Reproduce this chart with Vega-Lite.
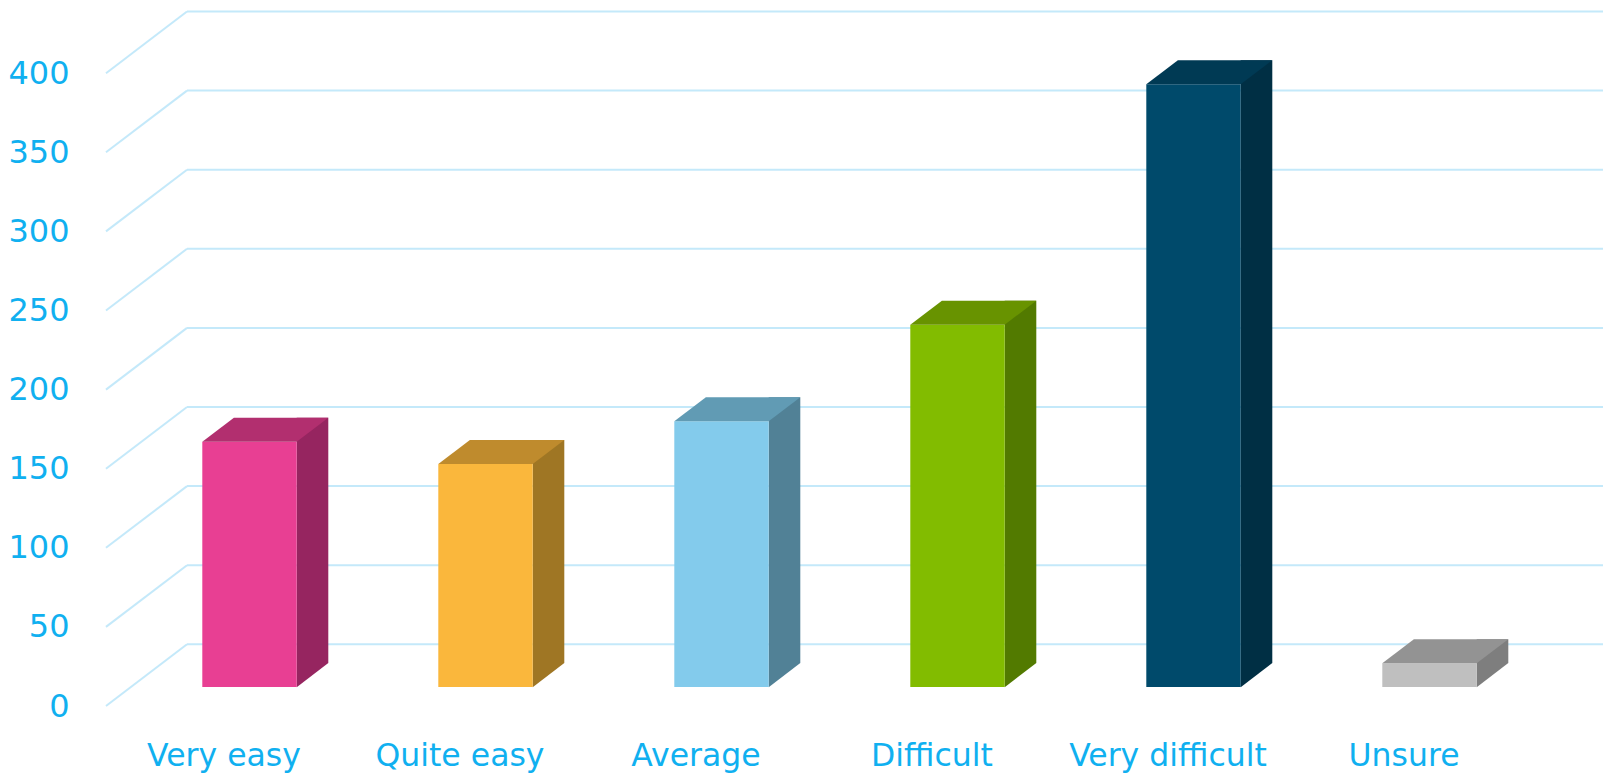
{
  "$schema": "https://vega.github.io/schema/vega-lite/v6.json",
  "autosize": {"type": "none"},
  "padding": {"left": 187, "top": 54.2, "right": 2, "bottom": 87},
  "width": 1416,
  "height": 632.8,
  "background": "white",
  "config": {
    "view": {"stroke": null},
    "axisX": {"domain": false, "ticks": false, "tickSize": 0, "grid": false, "labelLimit": 0,
              "labelAngle": 0, "labelOffset": -81, "labelPadding": 78, "labelBaseline": "alphabetic",
              "labelFont": "DejaVu Sans", "labelFontSize": 31.5, "labelColor": "#10b0f0"},
    "axisY": {"domain": false, "ticks": false, "tickSize": 0, "grid": false,
              "labelOffset": 19, "labelPadding": 118,
              "labelFont": "DejaVu Sans", "labelFontSize": 32, "labelColor": "#10b0f0"}
  },
  "datasets": {
    "bars": [
      {"cat": "Very easy", "value": 155},
      {"cat": "Quite easy", "value": 141},
      {"cat": "Average", "value": 168},
      {"cat": "Difficult", "value": 229},
      {"cat": "Very difficult", "value": 381},
      {"cat": "Unsure", "value": 15}
    ],
    "grid": [
      {"g": 0}, {"g": 50}, {"g": 100}, {"g": 150}, {"g": 200},
      {"g": 250}, {"g": 300}, {"g": 350}, {"g": 400}
    ]
  },
  "resolve": {"scale": {"color": "independent"}},
  "layer": [
    {
      "data": {"name": "grid"},
      "mark": {"type": "rule", "color": "#c4e9fa", "strokeWidth": 2, "yOffset": -42.7},
      "encoding": {
        "y": {"field": "g", "type": "quantitative", "scale": {"domain": [0, 400], "nice": false},
              "axis": {"title": null, "values": [0, 50, 100, 150, 200, 250, 300, 350, 400]}}
      }
    },
    {
      "data": {"name": "grid"},
      "mark": {"type": "rule", "color": "#c4e9fa", "strokeWidth": 2, "xOffset": -81, "yOffset": 19, "y2Offset": -42.7},
      "encoding": {
        "x": {"value": 0},
        "x2": {"value": 0},
        "y": {"field": "g", "type": "quantitative",
              "axis": {"title": null, "values": [0, 50, 100, 150, 200, 250, 300, 350, 400]}},
        "y2": {"field": "g"}
      }
    },
    {
      "data": {"name": "bars"},
      "mark": {"type": "bar", "width": 31.6, "xOffset": 7.5, "yOffset": -24, "y2Offset": -24},
      "encoding": {
        "x": {"field": "cat", "type": "nominal", "sort": null, "axis": {"title": null},
              "scale": {"paddingInner": 0, "paddingOuter": 0}},
        "y": {"field": "value", "type": "quantitative", "stack": null,
              "axis": {"title": null, "values": [0, 50, 100, 150, 200, 250, 300, 350, 400]}},
        "y2": {"datum": 0},
        "color": {"field": "cat", "type": "nominal", "legend": null, "sort": null,
          "scale": {"domain": ["Very easy", "Quite easy", "Average", "Difficult", "Very difficult", "Unsure"],
                    "range": ["#962560", "#9f7624", "#518196", "#527a00", "#002f44", "#7e7e7e"]}}
      }
    },
    {
      "data": {"name": "bars"},
      "mark": {"type": "point", "filled": true, "opacity": 1, "strokeWidth": 0, "size": 4, "xOffset": -8.3, "yOffset": -24,
               "shape": "M0,0L0,24.2L31.6,0Z"},
      "encoding": {
        "x": {"field": "cat", "type": "nominal", "sort": null, "axis": {"title": null}},
        "y": {"datum": 0, "type": "quantitative",
              "axis": {"title": null, "values": [0, 50, 100, 150, 200, 250, 300, 350, 400]}},
        "color": {"field": "cat", "type": "nominal", "legend": null, "sort": null,
          "scale": {"domain": ["Very easy", "Quite easy", "Average", "Difficult", "Very difficult", "Unsure"],
                    "range": ["#962560", "#9f7624", "#518196", "#527a00", "#002f44", "#7e7e7e"]}}
      }
    },
    {
      "data": {"name": "bars"},
      "mark": {"type": "bar", "width": 94.4, "xOffset": -55.5},
      "encoding": {
        "x": {"field": "cat", "type": "nominal", "sort": null, "axis": {"title": null}},
        "y": {"field": "value", "type": "quantitative", "stack": null,
              "axis": {"title": null, "values": [0, 50, 100, 150, 200, 250, 300, 350, 400]}},
        "y2": {"datum": 0},
        "color": {"field": "cat", "type": "nominal", "legend": null, "sort": null,
          "scale": {"domain": ["Very easy", "Quite easy", "Average", "Difficult", "Very difficult", "Unsure"],
                    "range": ["#e83f93", "#fab73c", "#83cbec", "#82bc00", "#004a6b", "#bfbfbf"]}}
      }
    },
    {
      "data": {"name": "bars"},
      "mark": {"type": "point", "filled": true, "opacity": 1, "strokeWidth": 0, "size": 4, "xOffset": -55.5,
               "shape": "M-47.2,0L47.2,0L78.8,-24L-15.6,-24Z"},
      "encoding": {
        "x": {"field": "cat", "type": "nominal", "sort": null, "axis": {"title": null}},
        "y": {"field": "value", "type": "quantitative",
              "axis": {"title": null, "values": [0, 50, 100, 150, 200, 250, 300, 350, 400]}},
        "color": {"field": "cat", "type": "nominal", "legend": null, "sort": null,
          "scale": {"domain": ["Very easy", "Quite easy", "Average", "Difficult", "Very difficult", "Unsure"],
                    "range": ["#b22f6f", "#bf8b2d", "#619bb4", "#689300", "#003a54", "#939393"]}}
      }
    }
  ]
}
